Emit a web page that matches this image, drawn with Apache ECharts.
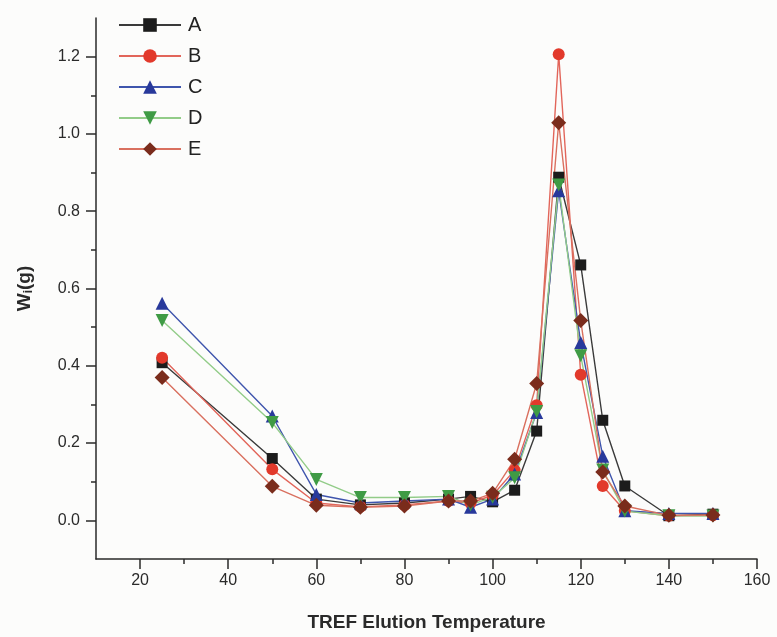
<!DOCTYPE html>
<html>
<head>
<meta charset="utf-8">
<script src="https://cdn.jsdelivr.net/npm/echarts@6/dist/echarts.min.js"></script>
<style>
html,body{margin:0;padding:0;background:#fcfcfb;}
#c{width:777px;height:637px;}
</style>
</head>
<body>
<div id="c"></div>
<script>
// Data
const temps = [25, 50, 60, 70, 80, 90, 95, 100, 105, 110, 115, 120, 125, 130, 140, 150];
const seriesA = [0.408, 0.160, 0.055, 0.040, 0.045, 0.055, 0.062, 0.048, 0.078, 0.231, 0.888, 0.661, 0.259, 0.089, 0.012, 0.016];
const seriesB = [0.421, 0.132, 0.045, 0.035, 0.040, 0.050, 0.045, 0.065, 0.130, 0.298, 1.206, 0.377, 0.089, 0.025, 0.012, 0.013];
const seriesC = [0.562, 0.270, 0.067, 0.045, 0.050, 0.055, 0.034, 0.055, 0.120, 0.279, 0.853, 0.460, 0.166, 0.025, 0.018, 0.018];
const seriesD = [0.517, 0.253, 0.106, 0.059, 0.059, 0.062, 0.040, 0.060, 0.110, 0.282, 0.868, 0.426, 0.130, 0.024, 0.012, 0.011];
const seriesE = [0.370, 0.088, 0.039, 0.034, 0.037, 0.050, 0.050, 0.070, 0.158, 0.354, 1.029, 0.517, 0.125, 0.037, 0.013, 0.014];
const seriesNames = ['A', 'B', 'C', 'D', 'E'];

// Ticks
const xMajorTicks = [20, 40, 60, 80, 100, 120, 140, 160];
const xMinorTicks = [30, 50, 70, 90, 110, 130, 150];
const yMajorTicks = [0, 0.2, 0.4, 0.6, 0.8, 1.0, 1.2];
const yMinorTicks = [0.1, 0.3, 0.5, 0.7, 0.9, 1.1];

const axisColor = '#2a2a2a';
const font = 'Liberation Sans, Arial, sans-serif';

function pairs(vals) { return temps.map((t, i) => [t, vals[i]]); }

const styles = [
  { sym: 'rect', size: 11, rot: 0, fill: '#1c1c1c', line: '#3a3a3a' },
  { sym: 'circle', size: 12, rot: 0, fill: '#e2392b', line: '#e2655a' },
  { sym: 'triangle', size: 13, rot: 0, fill: '#28399b', line: '#3f55ad' },
  { sym: 'triangle', size: 13, rot: 180, fill: '#3f9b45', line: '#92cc88' },
  { sym: 'diamond', size: 15, rot: 0, fill: '#7a2c1c', line: '#d9705f' }
];
const allData = [seriesA, seriesB, seriesC, seriesD, seriesE];

const chart = echarts.init(document.getElementById('c'), null, { renderer: 'canvas' });
chart.setOption({
  backgroundColor: '#fcfcfb',
  animation: false,
  grid: { left: 96, right: 20, top: 18, bottom: 77 },
  legend: {
    orient: 'vertical',
    left: 113,
    top: 10,
    itemWidth: 62,
    itemHeight: 17,
    itemGap: 11,
    data: seriesNames,
    textStyle: { fontSize: 20, color: '#222', fontFamily: font, padding: [0, 0, 0, 2] }
  },
  xAxis: [
    {
      type: 'value', min: 10, max: 160, position: 'bottom',
      name: 'TREF Elution Temperature', nameLocation: 'middle', nameGap: 54,
      nameTextStyle: { fontSize: 19, fontWeight: 'bold', color: '#2a2a2a', fontFamily: font },
      axisLine: { show: true, onZero: false, lineStyle: { color: axisColor, width: 1.5 } },
      axisTick: { show: true, length: 10, customValues: xMajorTicks, lineStyle: { color: axisColor, width: 1.5 } },
      axisLabel: { customValues: xMajorTicks, fontSize: 16, color: '#2a2a2a', margin: 14, fontFamily: font },
      splitLine: { show: false }
    },
    {
      type: 'value', min: 10, max: 160, position: 'bottom', offset: 0,
      axisLine: { show: false, onZero: false },
      axisTick: { show: true, length: 5, customValues: xMinorTicks, lineStyle: { color: axisColor, width: 1.5 } },
      axisLabel: { show: false },
      splitLine: { show: false }
    }
  ],
  yAxis: [
    {
      type: 'value', min: -0.1, max: 1.3, position: 'left',
      name: '{a|W}{b|i}{a|(g)}', nameLocation: 'middle', nameGap: 61, nameRotate: 90,
      nameTextStyle: {
        rich: {
          a: { fontSize: 19, fontWeight: 'bold', color: '#2a2a2a', fontFamily: font },
          b: { fontSize: 12, fontWeight: 'bold', color: '#2a2a2a', fontFamily: font, verticalAlign: 'bottom', padding: [8, 0, 0, 0] }
        }
      },
      axisLine: { show: true, onZero: false, lineStyle: { color: axisColor, width: 1.5 } },
      axisTick: { show: true, length: 10, customValues: yMajorTicks, lineStyle: { color: axisColor, width: 1.5 } },
      axisLabel: { customValues: yMajorTicks, fontSize: 16, color: '#2a2a2a', margin: 16, fontFamily: font,
        formatter: v => v.toFixed(1) },
      splitLine: { show: false }
    },
    {
      type: 'value', min: -0.1, max: 1.3, position: 'left', offset: 0,
      axisLine: { show: false, onZero: false },
      axisTick: { show: true, length: 5, customValues: yMinorTicks, lineStyle: { color: axisColor, width: 1.5 } },
      axisLabel: { show: false },
      splitLine: { show: false }
    }
  ],
  series: seriesNames.map((n, i) => ({
    name: n,
    type: 'line',
    xAxisIndex: 0,
    yAxisIndex: 0,
    data: pairs(allData[i]),
    symbol: styles[i].sym,
    symbolSize: styles[i].size,
    symbolRotate: styles[i].rot,
    showAllSymbol: true,
    itemStyle: { color: styles[i].fill, borderWidth: 0 },
    lineStyle: { color: styles[i].line, width: 1.4 },
    emphasis: { disabled: true }
  }))
});
</script>
</body>
</html>
